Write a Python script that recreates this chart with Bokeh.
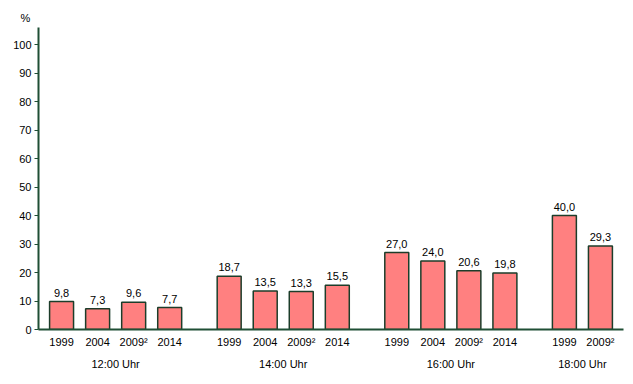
from bokeh.plotting import figure
from bokeh.models import FactorRange, ColumnDataSource, LabelSet, FixedTicker, Range1d
from bokeh.core.properties import value
from bokeh.embed import file_html
from bokeh.resources import INLINE

groups = ["12:00 Uhr", "14:00 Uhr", "16:00 Uhr", "18:00 Uhr"]
years_12 = ["1999", "2004", "2009²", "2014"]
values_12 = [9.8, 7.3, 9.6, 7.7]
years_14 = ["1999", "2004", "2009²", "2014"]
values_14 = [18.7, 13.5, 13.3, 15.5]
years_16 = ["1999", "2004", "2009²", "2014"]
values_16 = [27.0, 24.0, 20.6, 19.8]
years_18 = ["1999", "2009²"]
values_18 = [40.0, 29.3]
y_ticks = list(range(0, 101, 10))

factors, vals = [], []
for g, ys, vs in zip(groups, [years_12, years_14, years_16, years_18],
                     [values_12, values_14, values_16, values_18]):
    for y, v in zip(ys, vs):
        factors.append(("\n" + g, y))
        vals.append(v)
labels = [f"{v:.1f}".replace(".", ",") for v in vals]

src = ColumnDataSource(dict(x=factors, top=vals, lab=labels))

FONT = "Liberation Sans"
AXC = "#1f4f35"

xr = FactorRange(*factors, factor_padding=0.0, group_padding=0.65,
                 range_padding=0.14, range_padding_units="absolute")
p = figure(x_range=xr, y_range=Range1d(0, 106), output_backend="svg",
           toolbar_location=None, frame_width=585, frame_height=302,
           min_border_left=38, min_border_top=27, min_border_right=10,
           min_border_bottom=48)
p.outline_line_color = None
p.background_fill_color = "white"
p.grid.grid_line_color = None

p.title.text = "%"
p.title.align = "left"
p.title.offset = -18
p.title.standoff = 7
p.title.text_font = FONT
p.title.text_font_size = "11px"
p.title.text_font_style = "normal"
p.title.text_color = "black"

p.vbar(x="x", top="top", width=0.665, source=src, fill_color="#ff8080",
       line_color="#1c3d2a", line_width=1.5)

p.add_layout(LabelSet(x="x", y="top", text="lab", source=src, y_offset=5,
                      text_align="center", text_baseline="bottom",
                      text_font=value(FONT), text_font_size=value("11px"),
                      text_color="black"))

p.yaxis.ticker = FixedTicker(ticks=y_ticks)
p.yaxis.axis_line_color = AXC
p.yaxis.axis_line_width = 2
p.yaxis.major_tick_line_color = AXC
p.yaxis.major_tick_in = 0
p.yaxis.major_tick_out = 4
p.yaxis.minor_tick_line_color = None
p.yaxis.major_label_text_font = FONT
p.yaxis.major_label_text_font_size = "11px"
p.yaxis.major_label_text_color = "black"
p.yaxis.major_label_standoff = 3

p.xaxis.axis_line_color = AXC
p.xaxis.axis_line_width = 2
p.xaxis.major_tick_line_color = None
p.xaxis.minor_tick_line_color = None
p.xaxis.major_label_text_font = FONT
p.xaxis.major_label_text_font_size = "11px"
p.xaxis.major_label_text_color = "black"
p.xaxis.major_label_standoff = 0
p.xaxis.group_text_font = FONT
p.xaxis.group_text_font_size = "11px"
p.xaxis.group_text_color = "black"
p.xaxis.group_text_font_style = "normal"
p.xaxis.group_text_line_height = 0.6
p.xaxis.separator_line_color = None

open("out.html", "w").write(file_html(p, INLINE))
